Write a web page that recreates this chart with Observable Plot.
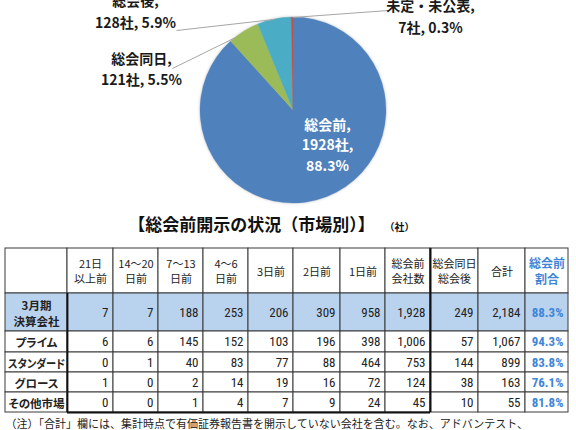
<!DOCTYPE html>
<html><head><meta charset="utf-8">
<script src="https://cdn.jsdelivr.net/npm/d3@7"></script>
<script src="https://cdn.jsdelivr.net/npm/@observablehq/plot@0.6"></script>
<style>
body{margin:0;background:#fff;}
svg{display:block;}
</style>
</head><body><div id="chart"></div>
<script>
// ---------- data ----------
const pieCategories = ["総会前", "総会同日", "総会後", "未定・未公表"];
const pieCounts = [1928, 121, 128, 7];
const piePercents = ["88.3%", "5.5%", "5.9%", "0.3%"];

const colHeaders = ["21日\n以上前", "14～20\n日前", "7～13\n日前", "4～6\n日前", "3日前", "2日前", "1日前", "総会前\n会社数", "総会同日\n総会後", "合計", "総会前\n割合"];
const rowLabels = ["3月期\n決算会社", "プライム", "スタンダード", "グロース", "その他市場"];
const rowMarch   = [7, 7, 188, 253, 206, 309, 958, 1928, 249, 2184];
const rowPrime   = [6, 6, 145, 152, 103, 196, 398, 1006, 57, 1067];
const rowStandard= [0, 1, 40, 83, 77, 88, 464, 753, 144, 899];
const rowGrowth  = [1, 0, 2, 14, 19, 16, 72, 124, 38, 163];
const rowOther   = [0, 0, 1, 4, 7, 9, 24, 45, 10, 55];
const rowShares  = ["88.3%", "94.3%", "83.8%", "76.1%", "81.8%"];

const titleText = "【総会前開示の状況（市場別）】";
const unitText = "（社）";
const noteText = "（注）「合計」欄には、集計時点で有価証券報告書を開示していない会社を含む。なお、アドバンテスト、";

// ---------- layout & style ----------
const W = 576, H = 430;
const pieColors = ["#4F81BD", "#9BBB59", "#4BACC6", "#C0504D"];
const pieCenter = [293, 110], pieR = 93;
const labelLayout = [
  {x: 327, y: 125, step: 20.5, inside: true},
  {x: 141, y: 59, step: 21, lead: [172, 68], end: [235, 37]},
  {x: 135, y: 1, step: 22, lead: [176, 30], end: null},
  {x: 430, y: 6, step: 22, lead: [388, 10], end: null}
];
const colEdges = [5, 67, 113, 158, 203, 248, 293, 340, 385, 430, 478, 525, 568];
const rowEdges = [248, 293, 331, 352, 372, 392, 412];
const jp = "'Noto Sans CJK JP', sans-serif";
const narrow = "'Liberation Sans Narrow', 'Arial Narrow', 'Roboto Condensed', 'Noto Sans CJK JP', sans-serif";
const blueText = "#3E86D8";
const rowBg = "#B9D2EE";

// ---------- pie ----------
const pieData = pieCategories.map((c, i) => ({category: c, count: pieCounts[i], pct: piePercents[i], color: pieColors[i]}));
const arcs = d3.pie().sort(null).value(d => d.count)(pieData);

function pieSlices(index, scales) {
  const cx = scales.x(pieCenter[0]), cy = scales.y(pieCenter[1]);
  const arc = d3.arc().innerRadius(0).outerRadius(pieR);
  const g = d3.create("svg:g")
    .attr("transform", `translate(${cx},${cy})`)
    .style("filter", "drop-shadow(0px 0px 1.5px rgba(0,0,0,0.22))");
  g.selectAll("path").data(arcs).join("path")
    .attr("d", arc)
    .attr("fill", d => d.data.color)
    .attr("stroke", d => d.data.color)
    .attr("stroke-width", 0.3);
  return g.node();
}

function arcPoint(a, t = 0.5) {
  const ang = a.startAngle + (a.endAngle - a.startAngle) * t;
  return [pieCenter[0] + pieR * Math.sin(ang), pieCenter[1] - pieR * Math.cos(ang)];
}

const leaders = arcs.map((a, i) => ({a, L: labelLayout[i]})).filter(d => !d.L.inside).map(d => {
  const e = d.L.end || arcPoint(d.a);
  return {x1: d.L.lead[0], y1: d.L.lead[1], x2: e[0], y2: e[1]};
});

const pieLabelLines = [];
arcs.forEach((a, i) => {
  const L = labelLayout[i];
  const lines = L.inside
    ? [`${a.data.category},`, `${a.data.count}社,`, a.data.pct]
    : [`${a.data.category},`, `${a.data.count}社, ${a.data.pct}`];
  lines.forEach((t, k) => pieLabelLines.push({text: t, x: L.x, y: L.y + k * L.step, inside: !!L.inside}));
});

// ---------- table ----------
const tableRows = [rowMarch, rowPrime, rowStandard, rowGrowth, rowOther];
const fmt = d3.format(",");
const cells = [];
for (let r = 0; r < rowEdges.length - 1; r++) {
  for (let c = 0; c < colEdges.length - 1; c++) {
    cells.push({x1: colEdges[c], x2: colEdges[c + 1], y1: rowEdges[r], y2: rowEdges[r + 1], fill: r === 1 ? rowBg : "#fff"});
  }
}
const headerTexts = colHeaders.map((h, i) => ({text: h, x: (colEdges[i + 1] + colEdges[i + 2]) / 2, y: (rowEdges[0] + rowEdges[1]) / 2, share: i === colHeaders.length - 1}));
const rowLabelTexts = rowLabels.map((l, r) => ({text: l, x: (colEdges[0] + colEdges[1]) / 2, y: (rowEdges[r + 1] + rowEdges[r + 2]) / 2}));
const valueTexts = [];
tableRows.forEach((row, r) => {
  row.forEach((v, c) => valueTexts.push({text: fmt(v), x: colEdges[c + 2] - 5, y: (rowEdges[r + 1] + rowEdges[r + 2]) / 2}));
});
const shareTexts = rowShares.map((s, r) => ({text: s, x: colEdges[colEdges.length - 1] - 5, y: (rowEdges[r + 1] + rowEdges[r + 2]) / 2}));

const chart = Plot.plot({
  width: W, height: H,
  margin: 0,
  x: {domain: [0, W], range: [0, W], axis: null},
  y: {domain: [0, H], range: [0, H], axis: null},
  style: {background: "#fff", overflow: "hidden"},
  marks: [
    pieSlices,
    Plot.link(leaders, {x1: "x1", y1: "y1", x2: "x2", y2: "y2", stroke: "#A6A6A6", strokeWidth: 1}),
    Plot.text(pieLabelLines.filter(d => !d.inside), {x: "x", y: "y", text: "text",
      fontFamily: jp, fontSize: 14, fontWeight: "bold", fill: "#1a1a1a"}),
    Plot.text(pieLabelLines.filter(d => d.inside), {x: "x", y: "y", text: "text",
      fontFamily: jp, fontSize: 14, fontWeight: "bold", fill: "#fff"}),
    Plot.text([titleText], {x: () => 251, y: () => 225, text: d => d, fontFamily: jp, fontSize: 17, fontWeight: "bold", fill: "#111"}),
    Plot.text([unitText], {x: () => 399, y: () => 227, text: d => d, fontFamily: jp, fontSize: 10, fontWeight: "bold", fill: "#111"}),
    Plot.rect(cells, {x1: "x1", x2: "x2", y1: "y1", y2: "y2", fill: "fill", stroke: "#3a3a3a", strokeWidth: 1}),
    Plot.ruleX([colEdges[1]], {y1: rowEdges[1], y2: rowEdges[rowEdges.length - 1], stroke: "#111", strokeWidth: 1.8}),
    Plot.ruleX([colEdges[9]], {y1: rowEdges[0], y2: rowEdges[rowEdges.length - 1], stroke: "#111", strokeWidth: 2}),
    Plot.ruleY([rowEdges[rowEdges.length - 1]], {x1: colEdges[1], x2: colEdges[9], stroke: "#111", strokeWidth: 1.8}),
    Plot.text(headerTexts.filter(d => !d.share), {x: "x", y: "y", text: "text", lineHeight: 1.35, fontFamily: jp, fontSize: 11, fill: "#222"}),
    Plot.text(headerTexts.filter(d => d.share), {x: "x", y: "y", text: "text", lineHeight: 1.3, fontFamily: jp, fontSize: 12, fontWeight: "bold", fill: blueText}),
    Plot.text(rowLabelTexts, {x: "x", y: "y", text: "text", lineHeight: 1.4, fontFamily: jp, fontSize: 11.5, fontWeight: "bold", fill: "#222"}),
    Plot.text(valueTexts, {x: "x", y: "y", text: "text", textAnchor: "end", fontFamily: narrow, fontSize: 13, fill: "#222"}),
    Plot.text(shareTexts, {x: "x", y: "y", text: "text", textAnchor: "end", fontFamily: narrow, fontSize: 13, fontWeight: "bold", fill: blueText}),
    Plot.text([noteText], {x: () => 5, y: () => 424, text: d => d, textAnchor: "start", fontFamily: jp, fontSize: 11, fill: "#222"})
  ]
});
// proportional kana for the row-label column so long labels fit their cells
const labelSet = new Set(rowLabels.flatMap(l => l.split("\n")));
chart.querySelectorAll("text, tspan").forEach(t => {
  if (t.childElementCount === 0 && labelSet.has(t.textContent)) {
    t.style.fontFeatureSettings = '"palt"';
    if (t.textContent.length >= 6) { t.setAttribute("textLength", 57); t.setAttribute("lengthAdjust", "spacingAndGlyphs"); }
  }
});
document.getElementById("chart").appendChild(chart);
</script>
</body></html>
